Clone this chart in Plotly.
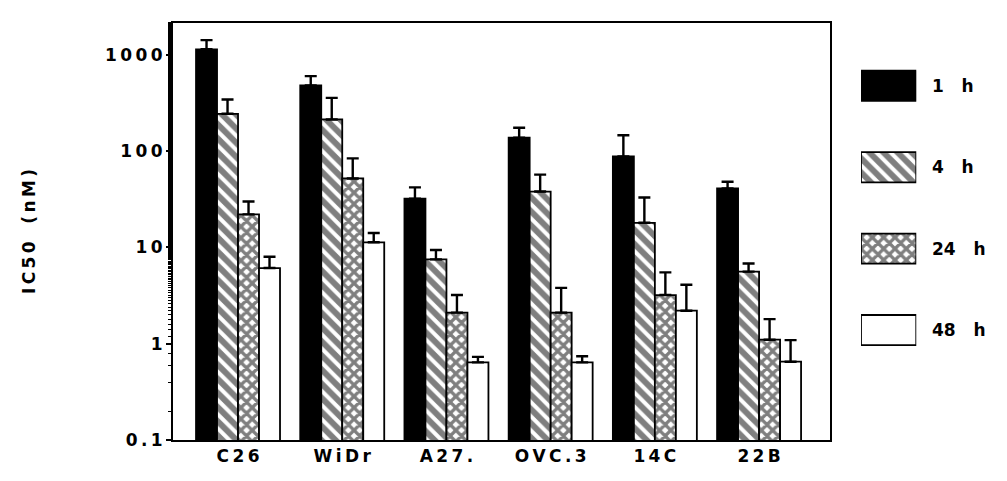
import plotly.graph_objects as go

cells = ["C26", "WiDr", "A27.", "OVC.3", "14C", "22B"]
series = ["1 h", "4 h", "24 h", "48 h"]

ic50_1h = [1140, 480, 32, 138, 88, 41]
ic50_4h = [244, 213, 7.5, 38, 18, 5.6]
ic50_24h = [22, 52, 2.1, 2.1, 3.2, 1.1]
ic50_48h = [6.1, 11.3, 0.64, 0.64, 2.2, 0.65]

err_1h = [280, 120, 10, 37, 58, 7]
err_4h = [99, 144, 1.9, 19, 15, 1.2]
err_24h = [8, 32, 1.1, 1.7, 2.3, 0.7]
err_48h = [1.9, 2.8, 0.09, 0.1, 1.9, 0.44]

y_ticks = [0.1, 1, 10, 100, 1000]
y_ticklabels = ["0.1", "1", "10", "100", "1000"]

values = [ic50_1h, ic50_4h, ic50_24h, ic50_48h]
errors = [err_1h, err_4h, err_24h, err_48h]

# pattern styles: (bgcolor, shape, size, solidity)
styles = [
    ("black", "", 8, 0.3),
    ("white", "\\", 10, 0.6),
    ("white", "x", 8, 0.65),
    ("white", "", 8, 0.3),
]

FONT = "DejaVu Sans, Liberation Sans, Arial, sans-serif"
TS = "\u2009"


def spaced(s):
    return TS.join(list(s))


fig = go.Figure()
for name, vals, errs, (bg, shape, size, sol) in zip(series, values, errors, styles):
    fig.add_trace(go.Bar(
        x=cells, y=vals, name=name, showlegend=False,
        marker=dict(color=bg, line=dict(color="black", width=1.8),
                    pattern=dict(shape=shape, fgcolor="black", bgcolor=bg,
                                 size=size, solidity=sol, fillmode="overlay")),
        error_y=dict(type="data", array=errs, arrayminus=[0] * len(errs),
                     symmetric=False, color="black", thickness=2.4, width=6),
        xaxis="x", yaxis="y",
    ))

# legend drawn as a small subplot with the same fills
for name, (bg, shape, size, sol) in zip(series, styles):
    fig.add_trace(go.Bar(
        x=[1], y=[name], orientation="h", showlegend=False, width=0.37,
        marker=dict(color=bg, line=dict(color="black", width=1.8),
                    pattern=dict(shape=shape, fgcolor="black", bgcolor=bg,
                                 size=size, solidity=sol, fillmode="overlay")),
        xaxis="x2", yaxis="y2", hoverinfo="skip",
    ))
    fig.add_annotation(x=0.905, xref="paper", y=name, yref="y2",
                       text=name.replace(" ", "\u00a0\u00a0\u00a0"),
                       showarrow=False, xanchor="left",
                       font=dict(family=FONT, size=17, color="black", weight="bold"))

fig.update_layout(
    width=1007, height=481,
    margin=dict(l=165, r=5, t=15, b=49),
    paper_bgcolor="white", plot_bgcolor="white",
    barmode="group", bargap=0.194, bargroupgap=0,
    font=dict(family=FONT, color="black"),
    xaxis=dict(domain=[0, 0.785], range=[-0.624, 5.681], showline=True,
               linecolor="black", linewidth=2, mirror=True, ticks="",
               showgrid=False, zeroline=False,
               tickvals=cells, ticktext=[spaced(c) for c in cells],
               tickfont=dict(family=FONT, size=17, color="black", weight="bold")),
    yaxis=dict(type="log", range=[-1, 3.33], showline=True, linecolor="black",
               linewidth=2, mirror=True, ticks="outside", ticklen=5, tickwidth=1.5,
               tickcolor="black", tickvals=y_ticks,
               ticktext=[spaced(t) for t in y_ticklabels],
               showgrid=False, zeroline=False,
               minor=dict(ticks="outside", ticklen=3, tickwidth=1, tickcolor="black",
                          showgrid=False),
               tickfont=dict(family=FONT, size=17, color="black", weight="bold"),
               title=dict(text=spaced("IC50") + "\u00a0\u00a0\u00a0" + spaced("(nM)"),
                          standoff=65,
                          font=dict(family=FONT, size=17, color="black", weight="bold"))),
    xaxis2=dict(domain=[0.822, 0.888], range=[0, 1], visible=False, anchor="y2"),
    yaxis2=dict(domain=[0.166, 0.947], range=[3.5, -0.5], visible=False,
                anchor="x2", type="category", categoryorder="array",
                categoryarray=series),
)

fig.write_html("out.html")
